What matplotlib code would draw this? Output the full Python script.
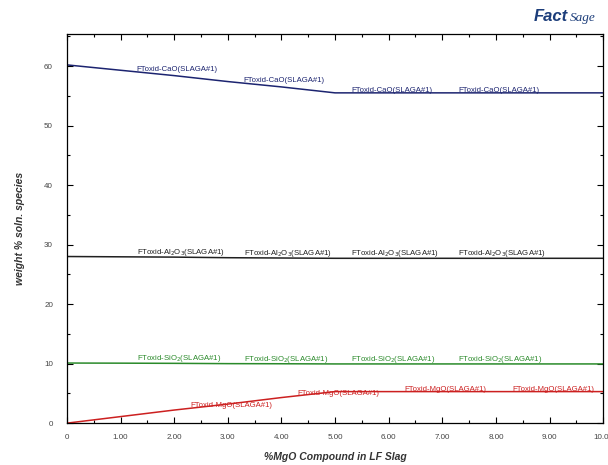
import matplotlib
matplotlib.use("Agg")
import matplotlib.pyplot as plt
import numpy as np
from matplotlib.ticker import MultipleLocator

plt.rcParams["font.family"] = ["Liberation Sans", "DejaVu Sans"]

# %MgO added to the LF slag
mgo_added = [0, 1, 2, 3, 4, 5, 6, 7, 8, 9, 10]

# weight % of solution species
cao = [60.2, 59.3, 58.4, 57.4, 56.5, 55.5, 55.5, 55.5, 55.5, 55.5, 55.5]
al2o3 = [28.0, 27.95, 27.9, 27.8, 27.75, 27.7, 27.7, 27.7, 27.7, 27.7, 27.7]
sio2 = [10.1, 10.08, 10.05, 10.0, 9.98, 9.95, 9.95, 9.95, 9.95, 9.95, 9.95]
mgo = [0.0, 1.1, 2.2, 3.2, 4.3, 5.3, 5.3, 5.3, 5.3, 5.3, 5.3]

series = [
    (cao, "FToxid-CaO(SLAGA#1)", "#1c2470", [1.3, 3.3, 5.3, 7.3]),
    (al2o3, r"FToxid-Al$_2$O$_3$(SLAGA#1)", "#202020", [1.3, 3.3, 5.3, 7.3]),
    (sio2, r"FToxid-SiO$_2$(SLAGA#1)", "#2a8a2a", [1.3, 3.3, 5.3, 7.3]),
    (mgo, "FToxid-MgO(SLAGA#1)", "#cc2020", [2.3, 4.3, 6.3, 8.3]),
]

xticks = [0, 1, 2, 3, 4, 5, 6, 7, 8, 9, 10]
xticklabels = ["0", "1.00", "2.00", "3.00", "4.00", "5.00",
               "6.00", "7.00", "8.00", "9.00", "10.00"]
yticks = [0, 10, 20, 30, 40, 50, 60]

fig = plt.figure(figsize=(6.08, 4.65), dpi=100)
ax = fig.add_axes([0.110, 0.090, 0.882, 0.837])

for vals, label, color, label_x in series:
    ax.plot(mgo_added, vals, color=color, lw=1.1)
    for lx in label_x:
        ly = np.interp(lx, mgo_added, vals)
        ax.text(lx, ly - 0.15, label, color=color, fontsize=5.6,
                ha="left", va="bottom")

ax.set_xlim(0, 10)
ax.set_ylim(0, 65.4)
ax.set_xticks(xticks)
ax.set_xticklabels(xticklabels)
ax.set_yticks(yticks)
ax.xaxis.set_minor_locator(MultipleLocator(0.5))
ax.yaxis.set_minor_locator(MultipleLocator(5))
ax.tick_params(which="both", direction="in", top=True, right=True,
               labelsize=5.8, labelcolor="#444444", width=0.8)
ax.tick_params(which="major", length=4)
ax.tick_params(which="minor", length=2.5)
ax.tick_params(axis="x", pad=8)
ax.tick_params(axis="y", pad=10)
for s in ax.spines.values():
    s.set_linewidth(0.9)

ax.set_xlabel("%MgO Compound in LF Slag", fontsize=7.5, fontweight="bold",
              fontstyle="italic", color="#333333", va="center")
ax.set_ylabel("weight % soln. species", fontsize=7.5, fontweight="bold",
              fontstyle="italic", color="#333333", va="center")
ax.xaxis.set_label_coords(0.5, -0.087)
ax.yaxis.set_label_coords(-0.088, 0.5)

# FactSage logo as text
fig.text(0.878, 0.965, "Fact", fontsize=12, fontweight="bold",
         fontstyle="italic", color="#1c3d7a", ha="left", va="center")
fig.text(0.938, 0.962, "Sage", fontsize=9.5, family="Liberation Serif",
         fontstyle="italic", color="#1c3d7a", ha="left", va="center")

fig.savefig("out.png", dpi=100)
